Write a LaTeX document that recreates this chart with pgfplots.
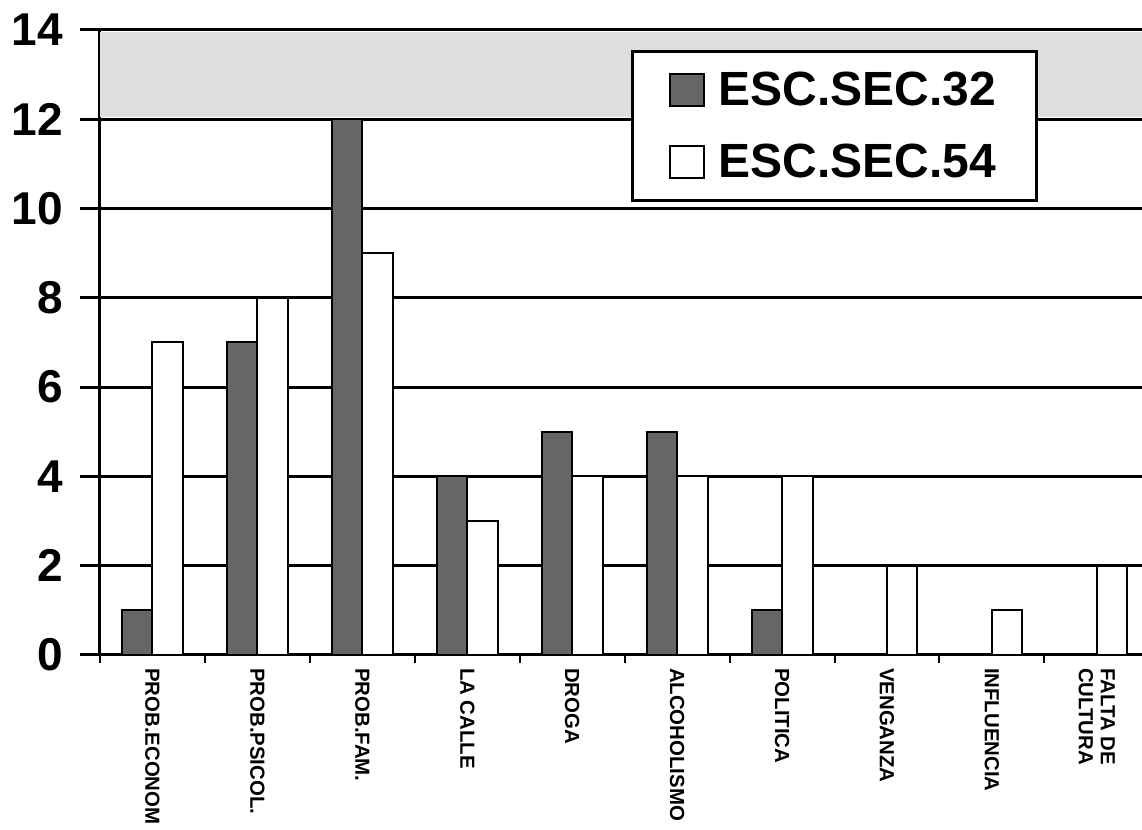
\documentclass[border=0pt]{standalone}
\usepackage{fontspec}
\setmainfont{Liberation Sans}
\usepackage{pgfplots}
\pgfplotsset{compat=1.18}
\usetikzlibrary{calc}
\begin{document}
\begin{tikzpicture}
\begin{axis}[name=ax,
 width=521pt, height=312.5pt, scale only axis,
 xmin=-0.5, xmax=9.43, ymin=0, ymax=14,
 ytick={0,2,...,14},
 xtick={0,...,9},
 xticklabels={PROB.ECONOM, PROB.PSICOL., PROB.FAM., LA CALLE, DROGA, ALCOHOLISMO, POLITICA, VENGANZA, INFLUENCIA, {FALTA DE\\CULTURA}},
 minor xtick={-0.5,0.5,...,9.5},
 axis x line=bottom, axis y line=left,
 axis line style={-, line width=1.5pt},
 ymajorgrids, major grid style={line width=1.5pt, black},
 tick align=outside,
 major tick length=10pt, minor tick length=4pt,
 major x tick style={draw=none},
 minor x tick style={line width=1pt, black},
 ytick style={line width=1.5pt, black},
 /pgf/number format/assume math mode=true,
 yticklabel style={font=\bfseries\fontsize{23}{25}\selectfont, xshift=-5pt},
 xticklabel style={yshift=7pt, font=\bfseries\fontsize{10.2}{11}\selectfont, rotate=-90, anchor=west, align=left},
 legend style={at={(rel axis cs:0.51,0.968)}, anchor=north west, draw=black, line width=1.5pt, fill=white,
   font=\bfseries\fontsize{24}{26}\selectfont, inner xsep=18pt, inner ysep=8pt, row sep=14pt},
 legend cell align=left,
 legend image code/.code={\draw[#1, line width=1pt] (0pt,-8pt) rectangle (17pt,8pt); \path (22pt,0pt);},
]
\addplot[draw=none, fill=black!13, forget plot] coordinates {(-0.5,12.04) (9.43,12.04) (9.43,13.96) (-0.5,13.96)};
\addplot[ybar, bar width=0.29, bar shift=-0.145, fill=black!60, draw=black, line width=1pt]
 coordinates {(0,1)(1,7)(2,12)(3,4)(4,5)(5,5)(6,1)};
\addplot[ybar, bar width=0.29, bar shift=0.145, fill=white, draw=black, line width=1pt]
 coordinates {(0,7)(1,8)(2,9)(3,3)(4,4)(5,4)(6,4)(7,2)(8,1)(9,2)};
\legend{ESC.SEC.32, ESC.SEC.54}
\end{axis}
\pgfresetboundingbox
\path[use as bounding box] ($(ax.south west)+(-50pt,-87.5pt)$) rectangle ($(ax.north east)+(0pt,15pt)$);
\end{tikzpicture}
\end{document}
